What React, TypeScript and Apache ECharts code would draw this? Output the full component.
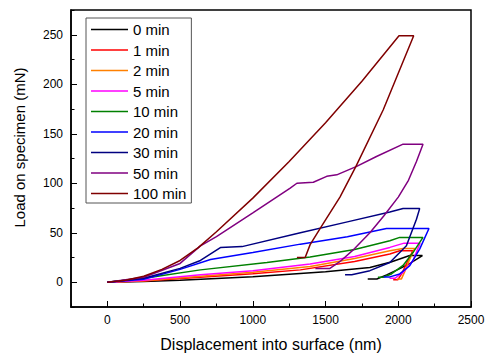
import { useEffect, useRef } from 'react';
import * as echarts from 'echarts';

const seriesNames = ['0 min', '1 min', '2 min', '5 min', '10 min', '20 min', '30 min', '50 min', '100 min'];
const seriesColors = ['#000000', '#ff0000', '#ff8000', '#ff00ff', '#008000', '#0000ff', '#000080', '#800080', '#800000'];

// [displacement (nm), load (mN)]
const curve0 = [[0, 0], [250, 0.8], [500, 2], [1000, 5.5], [1500, 10.5], [1805, 15], [1950, 20.5], [2079, 27], [2166, 27], [2080, 19], [2000, 13], [1920, 7.5], [1853, 3.3], [1790, 3.3]];
const curve1 = [[0, 0], [250, 1.2], [640, 5], [1000, 8.5], [1327, 12.5], [1700, 21], [1942, 28.5], [2010, 31.8], [2100, 31.8], [2060, 20], [2025, 9], [1998, 2.6], [1965, 2.6]];
const curve2 = [[0, 0], [250, 1.5], [640, 6], [1000, 10], [1394, 16], [1700, 24], [1942, 31.8], [2033, 34.2], [2113, 34.2], [2075, 22], [2045, 11], [2022, 3.4], [1990, 3.4]];
const curve5 = [[0, 0], [250, 2], [640, 7.5], [1000, 11.5], [1394, 18.4], [1700, 26], [1942, 35.2], [2040, 39.5], [2150, 39.5], [2101, 21.7], [2033, 10], [1976, 4], [1940, 4]];
const curve10 = [[0, 0], [300, 5], [640, 12.5], [1097, 20], [1394, 25.5], [1700, 33], [1942, 42], [2010, 45.3], [2170, 45.3], [2101, 30], [2033, 17], [1953, 8.4], [1896, 5], [1860, 5]];
const curve20 = [[0, 0], [250, 3], [500, 13], [709, 23], [1000, 30], [1327, 38.5], [1650, 46], [1919, 54.3], [2211, 54.3], [2147, 33.5], [2079, 16.7], [2010, 8.4], [1942, 5.4], [1900, 5.4]];
const curve30 = [[0, 0], [250, 4], [500, 14], [640, 22], [777, 35], [926, 36], [1327, 50], [1650, 61], [1942, 71], [2033, 74.4], [2147, 74.4], [2125, 63.7], [2056, 36.8], [1942, 20], [1805, 11.7], [1680, 7.6], [1634, 7.6]];
const curve50 = [[0, 0], [250, 5], [500, 19], [640, 36.8], [750, 46], [1000, 70], [1257, 95], [1303, 100], [1416, 101], [1508, 107], [1577, 108.5], [1714, 117], [1850, 127], [2033, 139.5], [2170, 139.5], [2125, 122], [2070, 103], [2000, 86], [1900, 67], [1805, 50], [1700, 34], [1600, 21], [1530, 14], [1430, 14]];
const curve100 = [[0, 0], [125, 2], [250, 6], [375, 13], [500, 22], [625, 35], [750, 51], [1000, 85], [1250, 122], [1500, 161], [1750, 203], [2005, 249], [2106, 249], [1896, 174], [1709, 117], [1599, 86], [1474, 57], [1394, 38], [1360, 25], [1303, 25]];

const seriesData = [curve0, curve1, curve2, curve5, curve10, curve20, curve30, curve50, curve100];

const xTickValues = [0, 500, 1000, 1500, 2000, 2500];
const yTickValues = [0, 50, 100, 150, 200, 250];

const FONT = 'Arial, "Liberation Sans", sans-serif';

export default function App() {
  const ref = useRef<HTMLDivElement>(null);
  useEffect(() => {
    if (!ref.current) return;
    const chart = echarts.init(ref.current, null, { renderer: 'svg' });
    const xMin = -250, xMax = 2500, yMin = -25, yMax = 275;
    const plain = (v: number) => String(v);
    chart.setOption({
      animation: false,
      backgroundColor: '#ffffff',
      grid: {
        left: 71, right: 30, top: 10, bottom: 56,
        show: true, borderColor: '#000', borderWidth: 1.5, backgroundColor: 'transparent',
      },
      legend: {
        orient: 'vertical', left: 86, top: 18,
        padding: [4, 5, 2, 5],
        borderColor: '#555', borderWidth: 1, backgroundColor: '#fff',
        icon: 'rect',
        itemWidth: 37, itemHeight: 1.6, itemGap: 5.5,
        selectedMode: false,
        textStyle: { fontFamily: FONT, fontSize: 15, color: '#000', lineHeight: 14 },
        data: seriesNames,
      },
      xAxis: [
        {
          type: 'value', min: xMin, max: xMax, interval: 250, position: 'bottom',
          name: 'Displacement into surface (nm)', nameLocation: 'middle', nameGap: 29,
          nameTextStyle: { fontFamily: FONT, fontSize: 16, color: '#000' },
          axisLine: { show: true, onZero: false, lineStyle: { color: '#000', width: 1.5 } },
          axisTick: { show: true, inside: true, length: 6, customValues: xTickValues, lineStyle: { color: '#000', width: 1 } },
          axisLabel: { show: true, customValues: xTickValues, formatter: plain, margin: 7, fontFamily: FONT, fontSize: 12, color: '#000' },
          splitLine: { show: false },
        },
        {
          type: 'value', min: xMin, max: xMax, interval: 250, position: 'bottom',
          axisLine: { show: false, onZero: false },
          axisTick: { show: true, inside: true, length: 3.5, lineStyle: { color: '#000', width: 1 } },
          axisLabel: { show: false },
          splitLine: { show: false },
        },
      ],
      yAxis: [
        {
          type: 'value', min: yMin, max: yMax, interval: 25, position: 'left',
          name: 'Load on specimen (mN)', nameLocation: 'middle', nameGap: 44,
          nameTextStyle: { fontFamily: FONT, fontSize: 15, color: '#000', padding: [0, 0, 0, 22] },
          axisLine: { show: true, onZero: false, lineStyle: { color: '#000', width: 1.5 } },
          axisTick: { show: true, inside: true, length: 6, customValues: yTickValues, lineStyle: { color: '#000', width: 1 } },
          axisLabel: { show: true, customValues: yTickValues, formatter: plain, margin: 8, fontFamily: FONT, fontSize: 12, color: '#000' },
          splitLine: { show: false },
        },
        {
          type: 'value', min: yMin, max: yMax, interval: 25, position: 'left',
          axisLine: { show: false, onZero: false },
          axisTick: { show: true, inside: true, length: 3.5, lineStyle: { color: '#000', width: 1 } },
          axisLabel: { show: false },
          splitLine: { show: false },
        },
      ],
      series: seriesNames.map((name, i) => ({
        name,
        type: 'line',
        xAxisIndex: 0,
        yAxisIndex: 0,
        data: seriesData[i],
        symbol: 'none',
        showSymbol: false,
        smooth: false,
        silent: true,
        color: seriesColors[i],
        itemStyle: { color: seriesColors[i] },
        lineStyle: { color: seriesColors[i], width: 1.5 },
      })),
    });
    return () => chart.dispose();
  }, []);
  return <div ref={ref} style={{ position: 'fixed', left: 0, top: 0, width: 501, height: 363 }} />;
}
